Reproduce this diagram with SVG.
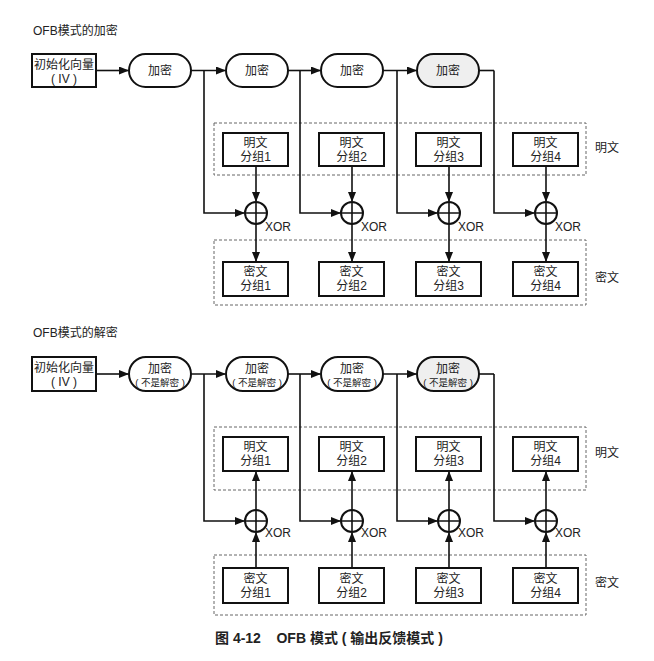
<svg xmlns="http://www.w3.org/2000/svg" width="654" height="661" viewBox="0 0 654 661">
<defs>
<marker id="ah" markerUnits="userSpaceOnUse" markerWidth="10" markerHeight="8" refX="9" refY="4" orient="auto"><path d="M0,0 L10,4 L0,8 z" fill="#111"/></marker>
<style>
text{font-family:"Liberation Sans","Noto Sans CJK SC",sans-serif;fill:#222;font-size:12px}
.c{text-anchor:middle}
.s{font-size:9.5px}
.box{fill:#fff;stroke:#111;stroke-width:2}
.cap{fill:#fff;stroke:#111;stroke-width:2}
.cap4{fill:#efefef;stroke:#111;stroke-width:2}
.dash{fill:none;stroke:#666;stroke-width:1;stroke-dasharray:3,2}
.ln{fill:none;stroke:#111;stroke-width:1.6}
.ar{fill:none;stroke:#111;stroke-width:1.6;marker-end:url(#ah)}
.xor{fill:#fff;stroke:#111;stroke-width:2}
.cap-t{font-size:14px;font-weight:bold}
</style>
</defs>
<rect width="654" height="661" fill="#fff"/>

<!-- ===== Encryption ===== -->
<text x="33" y="35">OFB模式的加密</text>
<g id="enc-dash-plain"><rect class="dash" x="214" y="123" width="372" height="52"/><text x="595" y="152">明文</text></g>
<g id="enc-dash-cipher"><rect class="dash" x="214" y="240" width="372" height="65"/><text x="595" y="282">密文</text></g>

<g id="enc-iv"><rect class="box" x="32" y="54" width="64" height="33"/><text class="c" x="64" y="69">初始化向量</text><text class="c" x="64" y="83">( IV )</text></g>
<g id="enc-e1"><rect class="cap" x="129" y="54" width="62" height="33" rx="16.5"/><text class="c" x="160" y="75">加密</text></g>
<g id="enc-e2"><rect class="cap" x="226" y="54" width="62" height="33" rx="16.5"/><text class="c" x="257" y="75">加密</text></g>
<g id="enc-e3"><rect class="cap" x="321" y="54" width="62" height="33" rx="16.5"/><text class="c" x="352" y="75">加密</text></g>
<g id="enc-e4"><rect class="cap4" x="417" y="54" width="62" height="33" rx="16.5"/><text class="c" x="448" y="75">加密</text></g>

<g id="enc-p1"><rect class="box" x="223" y="133" width="65" height="33"/><text class="c" x="255.5" y="147">明文</text><text class="c" x="255.5" y="161">分组1</text></g>
<g id="enc-p2"><rect class="box" x="319" y="133" width="65" height="33"/><text class="c" x="351.5" y="147">明文</text><text class="c" x="351.5" y="161">分组2</text></g>
<g id="enc-p3"><rect class="box" x="416" y="133" width="65" height="33"/><text class="c" x="448.5" y="147">明文</text><text class="c" x="448.5" y="161">分组3</text></g>
<g id="enc-p4"><rect class="box" x="513" y="133" width="65" height="33"/><text class="c" x="545.5" y="147">明文</text><text class="c" x="545.5" y="161">分组4</text></g>

<g id="enc-x1"><circle class="xor" cx="256" cy="213" r="11"/><path class="ln" d="M245,213H267M256,202V224"/><text x="265" y="231">XOR</text></g>
<g id="enc-x2"><circle class="xor" cx="352" cy="213" r="11"/><path class="ln" d="M341,213H363M352,202V224"/><text x="361" y="231">XOR</text></g>
<g id="enc-x3"><circle class="xor" cx="449" cy="213" r="11"/><path class="ln" d="M438,213H460M449,202V224"/><text x="458" y="231">XOR</text></g>
<g id="enc-x4"><circle class="xor" cx="546" cy="213" r="11"/><path class="ln" d="M535,213H557M546,202V224"/><text x="555" y="231">XOR</text></g>

<g id="enc-c1"><rect class="box" x="223" y="262" width="65" height="34"/><text class="c" x="255.5" y="276">密文</text><text class="c" x="255.5" y="290">分组1</text></g>
<g id="enc-c2"><rect class="box" x="319" y="262" width="65" height="34"/><text class="c" x="351.5" y="276">密文</text><text class="c" x="351.5" y="290">分组2</text></g>
<g id="enc-c3"><rect class="box" x="416" y="262" width="65" height="34"/><text class="c" x="448.5" y="276">密文</text><text class="c" x="448.5" y="290">分组3</text></g>
<g id="enc-c4"><rect class="box" x="513" y="262" width="65" height="34"/><text class="c" x="545.5" y="276">密文</text><text class="c" x="545.5" y="290">分组4</text></g>

<g id="enc-connectors">
<path class="ar" d="M96,70.5H128"/>
<path class="ar" d="M191,70.5H225"/>
<path class="ar" d="M288,70.5H320"/>
<path class="ar" d="M383,70.5H416"/>
<path class="ln" d="M479,70.5H494"/>
<path class="ar" d="M204,70.5V213H244"/>
<path class="ar" d="M300,70.5V213H340"/>
<path class="ar" d="M397,70.5V213H437"/>
<path class="ar" d="M494,70.5V213H534"/>
<path class="ar" d="M256,166V201"/>
<path class="ar" d="M352,166V201"/>
<path class="ar" d="M449,166V201"/>
<path class="ar" d="M546,166V201"/>
<path class="ar" d="M256,224V261"/>
<path class="ar" d="M352,224V261"/>
<path class="ar" d="M449,224V261"/>
<path class="ar" d="M546,224V261"/>
</g>

<!-- ===== Decryption ===== -->
<text x="33" y="337">OFB模式的解密</text>
<g id="dec-dash-plain"><rect class="dash" x="214" y="427" width="372" height="63"/><text x="595" y="457">明文</text></g>
<g id="dec-dash-cipher"><rect class="dash" x="214" y="555" width="372" height="60"/><text x="595" y="587">密文</text></g>

<g id="dec-iv"><rect class="box" x="32" y="357" width="64" height="34"/><text class="c" x="64" y="372">初始化向量</text><text class="c" x="64" y="386">( IV )</text></g>
<g id="dec-e1"><rect class="cap" x="129" y="357" width="62" height="34" rx="17"/><text class="c" x="160" y="373">加密</text><text class="c s" x="160" y="386">( 不是解密 )</text></g>
<g id="dec-e2"><rect class="cap" x="226" y="357" width="62" height="34" rx="17"/><text class="c" x="257" y="373">加密</text><text class="c s" x="257" y="386">( 不是解密 )</text></g>
<g id="dec-e3"><rect class="cap" x="321" y="357" width="62" height="34" rx="17"/><text class="c" x="352" y="373">加密</text><text class="c s" x="352" y="386">( 不是解密 )</text></g>
<g id="dec-e4"><rect class="cap4" x="417" y="357" width="62" height="34" rx="17"/><text class="c" x="448" y="373">加密</text><text class="c s" x="448" y="386">( 不是解密 )</text></g>

<g id="dec-p1"><rect class="box" x="223" y="437" width="65" height="34"/><text class="c" x="255.5" y="451">明文</text><text class="c" x="255.5" y="465">分组1</text></g>
<g id="dec-p2"><rect class="box" x="319" y="437" width="65" height="34"/><text class="c" x="351.5" y="451">明文</text><text class="c" x="351.5" y="465">分组2</text></g>
<g id="dec-p3"><rect class="box" x="416" y="437" width="65" height="34"/><text class="c" x="448.5" y="451">明文</text><text class="c" x="448.5" y="465">分组3</text></g>
<g id="dec-p4"><rect class="box" x="513" y="437" width="65" height="34"/><text class="c" x="545.5" y="451">明文</text><text class="c" x="545.5" y="465">分组4</text></g>

<g id="dec-x1"><circle class="xor" cx="256" cy="521" r="11"/><path class="ln" d="M245,521H267M256,510V532"/><text x="265" y="537">XOR</text></g>
<g id="dec-x2"><circle class="xor" cx="352" cy="521" r="11"/><path class="ln" d="M341,521H363M352,510V532"/><text x="361" y="537">XOR</text></g>
<g id="dec-x3"><circle class="xor" cx="449" cy="521" r="11"/><path class="ln" d="M438,521H460M449,510V532"/><text x="458" y="537">XOR</text></g>
<g id="dec-x4"><circle class="xor" cx="546" cy="521" r="11"/><path class="ln" d="M535,521H557M546,510V532"/><text x="555" y="537">XOR</text></g>

<g id="dec-c1"><rect class="box" x="223" y="568" width="65" height="35"/><text class="c" x="255.5" y="583">密文</text><text class="c" x="255.5" y="597">分组1</text></g>
<g id="dec-c2"><rect class="box" x="319" y="568" width="65" height="35"/><text class="c" x="351.5" y="583">密文</text><text class="c" x="351.5" y="597">分组2</text></g>
<g id="dec-c3"><rect class="box" x="416" y="568" width="65" height="35"/><text class="c" x="448.5" y="583">密文</text><text class="c" x="448.5" y="597">分组3</text></g>
<g id="dec-c4"><rect class="box" x="513" y="568" width="65" height="35"/><text class="c" x="545.5" y="583">密文</text><text class="c" x="545.5" y="597">分组4</text></g>

<g id="dec-connectors">
<path class="ar" d="M96,374H128"/>
<path class="ar" d="M191,374H225"/>
<path class="ar" d="M288,374H320"/>
<path class="ar" d="M383,374H416"/>
<path class="ln" d="M479,374H494"/>
<path class="ar" d="M204,374V521H244"/>
<path class="ar" d="M300,374V521H340"/>
<path class="ar" d="M397,374V521H437"/>
<path class="ar" d="M494,374V521H534"/>
<path class="ar" d="M256,568V533"/>
<path class="ar" d="M352,568V533"/>
<path class="ar" d="M449,568V533"/>
<path class="ar" d="M546,568V533"/>
<path class="ar" d="M256,510V472"/>
<path class="ar" d="M352,510V472"/>
<path class="ar" d="M449,510V472"/>
<path class="ar" d="M546,510V472"/>
</g>

<text class="cap-t" x="215" y="643" xml:space="preserve">图 4-12    OFB 模式 ( 输出反馈模式 )</text>
</svg>
